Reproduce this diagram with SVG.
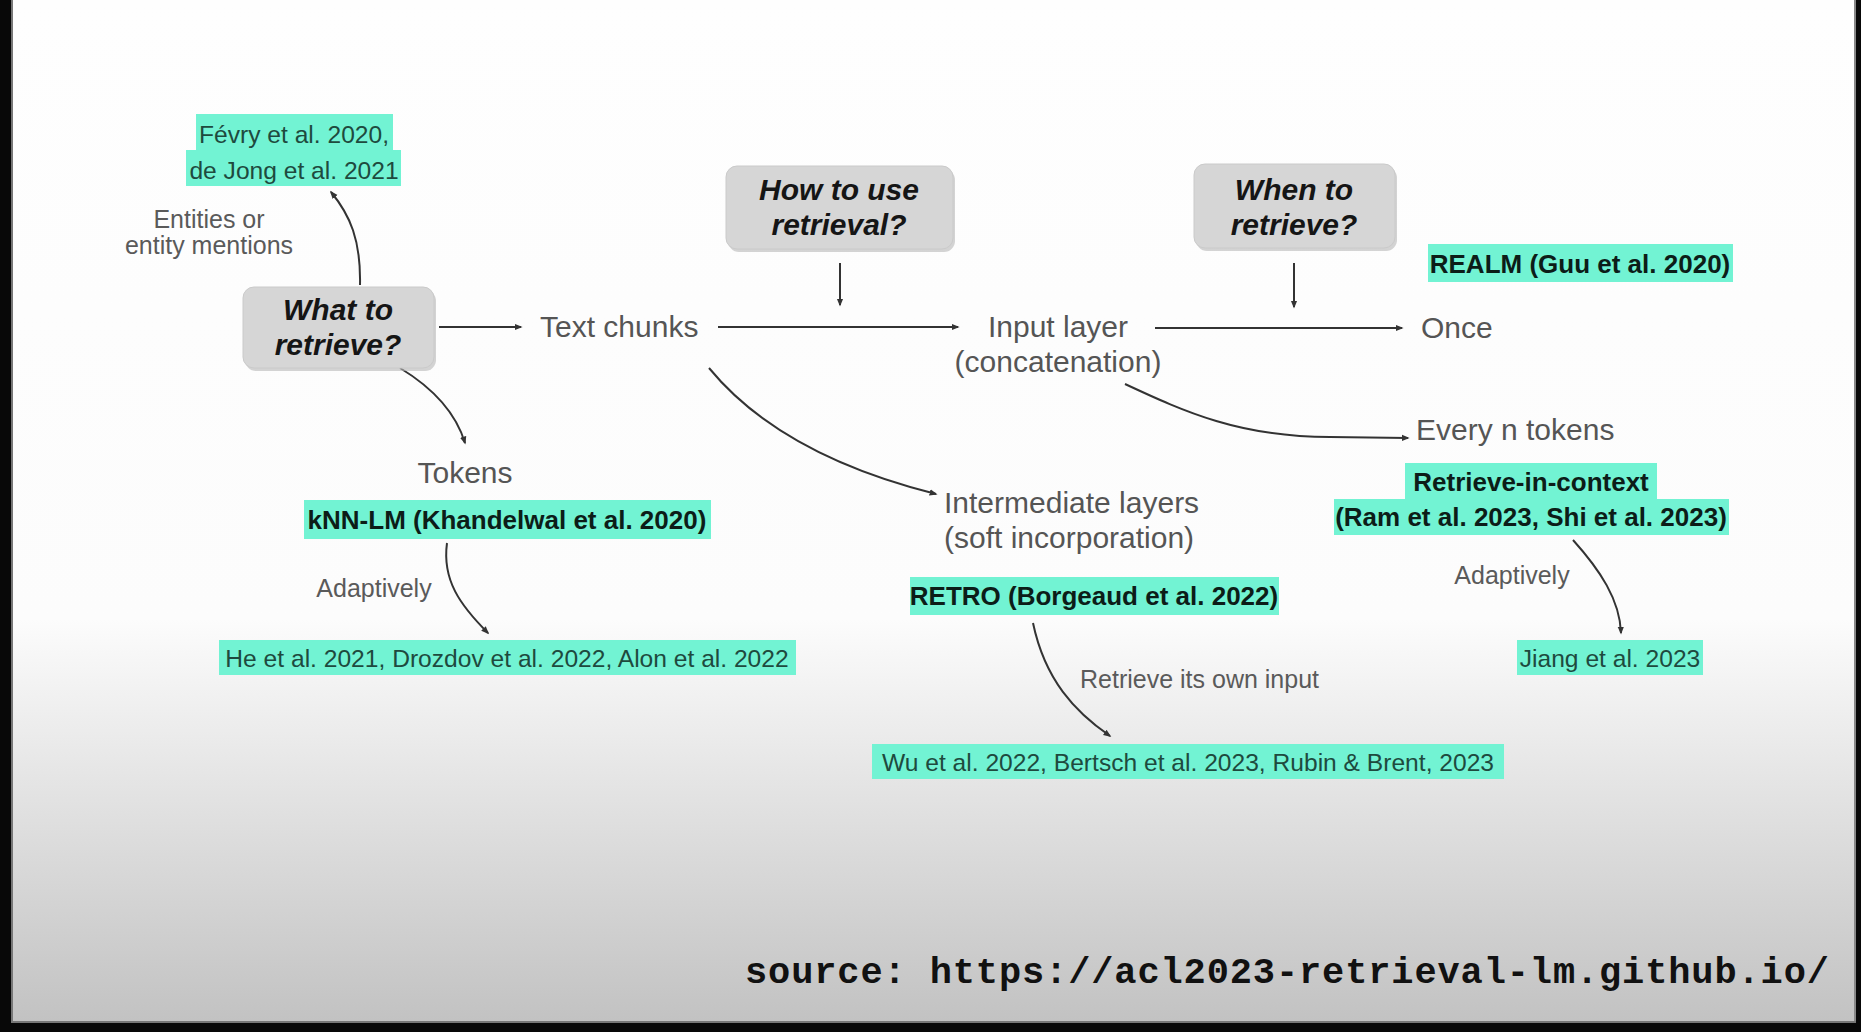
<svg xmlns="http://www.w3.org/2000/svg" width="1861" height="1032" viewBox="0 0 1861 1032">
<defs>
<linearGradient id="bg" x1="0" y1="0" x2="0" y2="1032" gradientUnits="userSpaceOnUse">
<stop offset="0" stop-color="#fefefe"/>
<stop offset="0.6" stop-color="#fcfcfc"/>
<stop offset="0.99" stop-color="#c2c2c2"/>
</linearGradient>
<marker id="ah" viewBox="0 0 10 10" refX="8" refY="5" markerWidth="4" markerHeight="4" orient="auto" markerUnits="strokeWidth">
<path d="M0,1 L10,5 L0,9 z" fill="#333"/>
</marker>
<style>
.box{fill:#d6d6d6;stroke:#cacaca;stroke-width:1}
.shadow{fill:#b8b8b8;opacity:0.6}
.q{font-family:"Liberation Sans",Arial,sans-serif;font-weight:bold;font-style:italic;font-size:30px;fill:#151515;text-anchor:middle}
.lbl{font-family:"Liberation Sans",Arial,sans-serif;font-size:30px;fill:#555}
.sm{font-family:"Liberation Sans",Arial,sans-serif;font-size:25px;fill:#5a5a5a}
.hl{fill:#72f3d3}
.cite{font-family:"Liberation Sans",Arial,sans-serif;font-size:24.6px;fill:#1e4a3e;text-anchor:middle}
.bcite{font-family:"Liberation Sans",Arial,sans-serif;font-size:26px;font-weight:bold;fill:#0c1d18;text-anchor:middle}
.edge{fill:none;stroke:#333;stroke-width:2;marker-end:url(#ah)}
</style>
</defs>
<rect x="0" y="0" width="1861" height="1032" fill="url(#bg)"/>
<rect x="0" y="0" width="11" height="1032" fill="#080808"/>
<rect x="11" y="0" width="2" height="1032" fill="#777"/>
<rect x="1856" y="0" width="5" height="1032" fill="#080808"/>
<rect x="1854" y="0" width="2" height="1032" fill="#888"/>
<rect x="0" y="1023" width="1861" height="9" fill="#080808"/>
<rect x="11" y="1021" width="1845" height="2" fill="#777"/>

<g id="connectors">
<path class="edge" d="M360,285 C361,240 350,215 331,192"/>
<path class="edge" d="M439,327 L521,327"/>
<path class="edge" d="M400,368 C428,385 455,410 465,443"/>
<path class="edge" d="M718,327 L958,327"/>
<path class="edge" d="M840,263 L840,305"/>
<path class="edge" d="M709,368 C760,430 840,470 936,494"/>
<path class="edge" d="M1155,328 L1402,328"/>
<path class="edge" d="M1294,263 L1294,307"/>
<path class="edge" d="M1125,384 C1185,412 1240,437 1330,437 L1408,438"/>
<path class="edge" d="M447,543 C442,580 460,605 488,633"/>
<path class="edge" d="M1033,623 C1045,680 1075,712 1110,736"/>
<path class="edge" d="M1573,540 C1600,570 1620,600 1621,633"/>
</g>

<g id="what-to-retrieve">
<rect class="shadow" x="245" y="290" width="191" height="81" rx="11"/>
<rect class="box" x="243" y="287" width="191" height="81" rx="11"/>
<text class="q" x="338" y="320">What to</text>
<text class="q" x="338" y="355">retrieve?</text>
</g>

<g id="how-to-use">
<rect class="shadow" x="728" y="169" width="227" height="83" rx="11"/>
<rect class="box" x="726" y="166" width="227" height="83" rx="11"/>
<text class="q" x="839" y="200">How to use</text>
<text class="q" x="839" y="235">retrieval?</text>
</g>

<g id="when-to-retrieve">
<rect class="shadow" x="1196" y="167" width="201" height="84" rx="11"/>
<rect class="box" x="1194" y="164" width="201" height="84" rx="11"/>
<text class="q" x="1294" y="200">When to</text>
<text class="q" x="1294" y="235">retrieve?</text>
</g>

<g id="fevry">
<rect class="hl" x="196" y="114" width="197" height="37"/>
<rect class="hl" x="186" y="150" width="215" height="36"/>
<text class="cite" x="294" y="143">Févry et al. 2020,</text>
<text class="cite" x="294" y="179">de Jong et al. 2021</text>
</g>

<g id="entities-label">
<text class="sm" x="209" y="228" text-anchor="middle">Entities or</text>
<text class="sm" x="209" y="254" text-anchor="middle">entity mentions</text>
</g>

<g id="text-chunks">
<text class="lbl" x="540" y="337">Text chunks</text>
</g>

<g id="input-layer">
<text class="lbl" x="1058" y="337" text-anchor="middle">Input layer</text>
<text class="lbl" x="1058" y="372" text-anchor="middle">(concatenation)</text>
</g>

<g id="once">
<text class="lbl" x="1421" y="338">Once</text>
</g>

<g id="realm">
<rect class="hl" x="1428" y="244" width="305" height="38"/>
<text class="bcite" x="1580" y="273">REALM (Guu et al. 2020)</text>
</g>

<g id="every-n-tokens">
<text class="lbl" x="1416" y="440">Every n tokens</text>
</g>

<g id="retrieve-in-context">
<rect class="hl" x="1405" y="463" width="252" height="37"/>
<rect class="hl" x="1334" y="499" width="395" height="36"/>
<text class="bcite" x="1531" y="491">Retrieve-in-context</text>
<text class="bcite" x="1531" y="526">(Ram et al. 2023, Shi et al. 2023)</text>
</g>

<g id="tokens">
<text class="lbl" x="465" y="483" text-anchor="middle">Tokens</text>
</g>

<g id="knn-lm">
<rect class="hl" x="304" y="500" width="407" height="39"/>
<text class="bcite" x="507" y="529">kNN-LM (Khandelwal et al. 2020)</text>
</g>

<g id="adaptively-left">
<text class="sm" x="374" y="597" text-anchor="middle">Adaptively</text>
</g>

<g id="he-et-al">
<rect class="hl" x="219" y="640" width="577" height="35"/>
<text class="cite" x="507" y="667">He et al. 2021, Drozdov et al. 2022, Alon et al. 2022</text>
</g>

<g id="intermediate-layers">
<text class="lbl" x="944" y="513">Intermediate layers</text>
<text class="lbl" x="944" y="548">(soft incorporation)</text>
</g>

<g id="retro">
<rect class="hl" x="910" y="577" width="369" height="38"/>
<text class="bcite" x="1094" y="605">RETRO (Borgeaud et al. 2022)</text>
</g>

<g id="retrieve-own-input-label">
<text class="sm" x="1080" y="688">Retrieve its own input</text>
</g>

<g id="wu-et-al">
<rect class="hl" x="872" y="744" width="632" height="35"/>
<text class="cite" x="1188" y="771">Wu et al. 2022, Bertsch et al. 2023, Rubin &amp; Brent, 2023</text>
</g>

<g id="adaptively-right">
<text class="sm" x="1512" y="584" text-anchor="middle">Adaptively</text>
</g>

<g id="jiang">
<rect class="hl" x="1517" y="640" width="186" height="35"/>
<text class="cite" x="1610" y="667">Jiang et al. 2023</text>
</g>

<g id="source">
<text x="745" y="983" font-family="'Liberation Mono','DejaVu Sans Mono',monospace" font-weight="bold" font-size="37" fill="#111" textLength="1084">source: https://acl2023-retrieval-lm.github.io/</text>
</g>
</svg>
